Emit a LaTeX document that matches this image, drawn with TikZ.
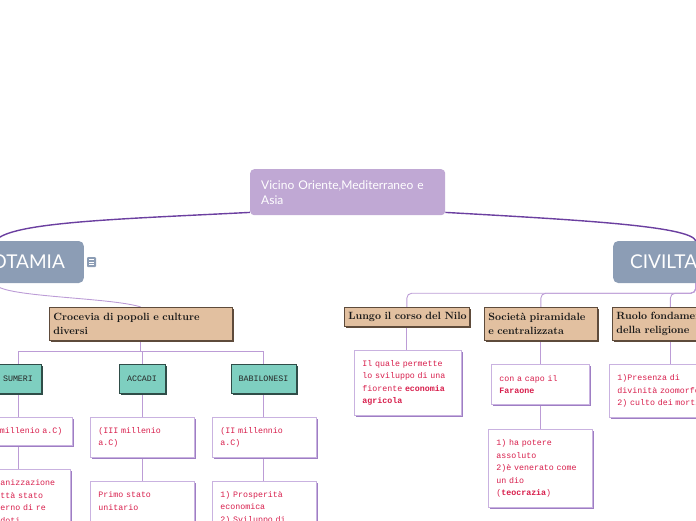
\documentclass[tikz,border=0pt]{standalone}
\usepackage{fontspec}
\newfontfamily\lato{Lato}
\newfontfamily\mono{Liberation Mono}
\usetikzlibrary{shadows,backgrounds}
\definecolor{rootc}{HTML}{C0A8D4}
\definecolor{slate}{HTML}{8C9DB5}
\definecolor{mainln}{HTML}{6B3FA0}
\definecolor{thinln}{HTML}{BC9CD6}
\definecolor{tanc}{HTML}{E2C0A0}
\definecolor{tanbd}{HTML}{5E4B3B}
\definecolor{tealc}{HTML}{7ECFC0}
\definecolor{tealbd}{HTML}{2F4D48}
\definecolor{wbd}{HTML}{C9B2E0}
\definecolor{wsh}{HTML}{9E7EC4}
\definecolor{redt}{HTML}{D81E4C}
\begin{document}
\begin{tikzpicture}[x=1pt,y=-1pt,
 mainline/.style={draw=mainln, line width=1.4pt},
 thinline/.style={draw=thinln, line width=0.9pt},
 rootbox/.style={fill=rootc, rounded corners=4pt, text=white, font=\lato\fontsize{12}{15}\selectfont, align=left, anchor=north west, inner xsep=11pt, inner ysep=0pt, text width=173pt, minimum height=46pt},
 topicbox/.style={fill=slate, rounded corners=5pt, text=white, font=\lato\fontsize{19}{22}\selectfont, minimum height=42pt, inner ysep=0pt},
 iconbox/.style={fill=slate, rounded corners=1pt, minimum width=9pt, minimum height=10pt, inner sep=0pt},
 tanbox/.style={draw=tanbd, line width=0.6pt, fill=tanc, text=black!90, font=\bfseries\fontsize{10.5}{14}\selectfont, align=left, anchor=north west, inner xsep=4pt, inner ysep=0pt, drop shadow={shadow xshift=2pt, shadow yshift=-2pt, fill=tanbd, opacity=1}},
 tealbox/.style={draw=tealbd, line width=0.6pt, fill=tealc, text=black!85, font=\mono\fontsize{8.3}{10}\selectfont, minimum height=29pt, inner sep=0pt, drop shadow={shadow xshift=2pt, shadow yshift=-2pt, fill=tealbd, opacity=1}},
 wbox/.style={draw=wbd, line width=0.8pt, fill=white, text=redt, font=\mono\fontsize{8.3}{12.5}\selectfont, align=left, anchor=north west, inner xsep=8pt, inner ysep=0pt, drop shadow={shadow xshift=2pt, shadow yshift=-2pt, fill=wsh, opacity=1}},
]
\useasboundingbox (0,0) rectangle (696,520);

% root and topics
\node[rootbox] (root) at (250,169) {Vicino Oriente,Mediterraneo e\\Asia};
\node[topicbox, anchor=east, inner xsep=19pt] (meso) at (84,262) {MESOPOTAMIA};
\node[topicbox, anchor=west, inner xsep=17pt] (civ) at (613,262) {CIVILTA EGIZIA};
\node[iconbox] (icon) at (91.5,262) {};
\draw[white, line width=0.7pt] (89,259.5)--(94,259.5) (89,262)--(94,262) (89,264.5)--(94,264.5);

% tan boxes
\node[tanbox, text width=175pt, minimum height=33pt] (croc) at (49,307) {\mbox{Crocevia di popoli e culture}\\diversi};
\node[tanbox, text width=117pt, minimum height=19pt] (lungo) at (344,307) {\mbox{Lungo il corso del Nilo}};
\node[tanbox, text width=105pt, minimum height=33pt] (soc) at (484,307) {\mbox{Società piramidale}\\\mbox{e centralizzata}};
\node[tanbox, text width=108pt, minimum height=33pt] (ruolo) at (612,307) {\mbox{Ruolo fondamentale}\\\mbox{della religione}};

% teal boxes
\node[tealbox, minimum width=46pt] (sum) at (18,378.5) {SUMERI};
\node[tealbox, minimum width=46pt] (acc) at (142,378.5) {ACCADI};
\node[tealbox, minimum width=65pt] (bab) at (263.5,378.5) {BABILONESI};

% white boxes
\node[wbox, inner xsep=6.5pt, text width=66pt, minimum height=28pt] (s1) at (-7,417) {\leavevmode\llap{(IV }millenio a.C)};
\node[wbox, inner xsep=6pt, text width=64pt, minimum height=64pt] (s2) at (-6,469) {\leavevmode\llap{Org}anizzazione\\\leavevmode\llap{in ci}ttà stato\\\leavevmode\llap{al gov}erno di re\\\leavevmode\llap{sacer}doti};
\node[wbox, text width=88pt, minimum height=40pt] (a1) at (90,417) {(III millenio\\a.C)};
\node[wbox, text width=88pt, minimum height=40pt] (b1) at (212,417) {(II millennio\\a.C)};
\node[wbox, text width=88pt, minimum height=52pt] (a2) at (90,481) {Primo stato\\unitario\\\mbox{}};
\node[wbox, text width=88pt, minimum height=52pt] (b2) at (212,481) {1) Prosperità\\economica\\2) Sviluppo di};
\node[wbox, text width=91pt, minimum height=65pt] (w1) at (354,350) {Il quale permette\\lo sviluppo di una\\fiorente \textbf{economia}\\\textbf{agricola}};
\node[wbox, text width=82pt, minimum height=40pt] (w2) at (491,364) {con a capo il\\\textbf{Faraone}};
\node[wbox, text width=88pt, minimum height=78pt] (w3) at (488,429) {1) ha potere\\assoluto\\\mbox{2)è venerato come}\\un dio\\(\textbf{teocrazia})};
\node[wbox, text width=106pt, minimum height=53pt] (w4) at (609,364) {1)Presenza di\\divinità zoomorfe\\2) culto dei morti};

\begin{scope}[on background layer]
\draw[mainline] ([yshift=3pt]root.south west) .. controls (120,219) and (10,222) .. (meso.north);
\draw[mainline] ([yshift=3pt]root.south east) .. controls (580,220) and (690,226) .. (civ.north);
\draw[thinline] (meso.south) .. controls ([yshift=-14pt]meso.south) and (110,297) .. (croc.north);
\draw[thinline] (croc.south) -- ++(0,11) -| (sum.north);
\draw[thinline] (croc.south) -- ++(0,11) -| (acc.north);
\draw[thinline] (croc.south) -- ++(0,11) -| (bab.north);
\draw[thinline] (sum.south) -- (sum.south |- s1.north);
\draw[thinline] (sum.south |- s1.south) -- (sum.south |- s2.north);
\draw[thinline] (acc.south) -- (acc.south |- a1.north);
\draw[thinline] (acc.south |- a1.south) -- (acc.south |- a2.north);
\draw[thinline] (bab.south) -- (bab.south |- b1.north);
\draw[thinline] (bab.south |- b1.south) -- (bab.south |- b2.north);
\draw[thinline, rounded corners=5pt] (civ.south) -- ++(0,10) -| (lungo.north);
\draw[thinline, rounded corners=5pt] (civ.south) -- ++(0,10) -| (soc.north);
\draw[thinline, rounded corners=5pt] (civ.south) -- ++(0,10) -| (ruolo.north);
\draw[thinline] (lungo.south) -- (lungo.south |- w1.north);
\draw[thinline] (soc.south) -- (soc.south |- w2.north);
\draw[thinline] (soc.south |- w2.south) -- (soc.south |- w3.north);
\draw[thinline] (ruolo.south) -- (ruolo.south |- w4.north);
\end{scope}
\end{tikzpicture}
\end{document}
